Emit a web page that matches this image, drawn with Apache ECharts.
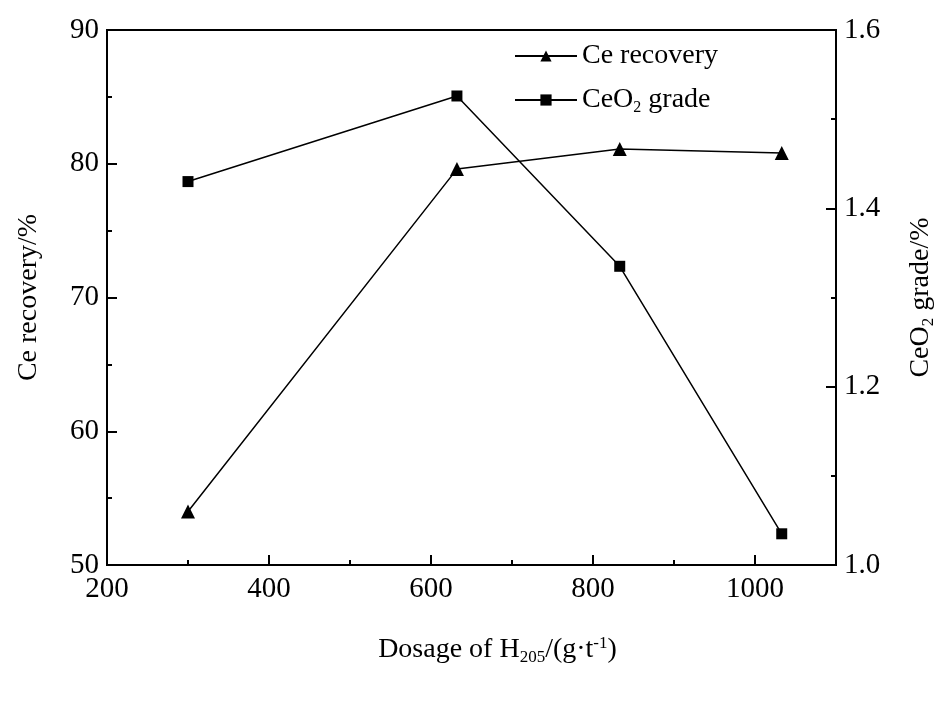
<!DOCTYPE html>
<html>
<head>
<meta charset="utf-8">
<script src="https://cdn.jsdelivr.net/npm/echarts@6/dist/echarts.min.js"></script>
<style>html,body{margin:0;padding:0;background:#fff;}#c{width:942px;height:705px;}</style>
</head>
<body>
<div id="c"></div>
<script>
var dosage = [300, 632, 833, 1033];
var ceRecovery = [54.0, 79.6, 81.1, 80.8];
var ceo2Grade = [1.430, 1.526, 1.335, 1.035];
var xTicks = [200, 400, 600, 800, 1000];
var leftTicks = [50, 60, 70, 80, 90];
var rightTicks = [1.0, 1.2, 1.4, 1.6];

var FONT = 'Liberation Serif';
var chart = echarts.init(document.getElementById('c'));
function pairs(xs, ys){ return xs.map(function(x,i){ return [x, ys[i]]; }); }
var axisLine = {show: true, lineStyle: {color: '#000', width: 2}};
var nameRich = {
  a: {fontFamily: FONT, fontSize: 28, color: '#000'},
  sub: {fontFamily: FONT, fontSize: 17, color: '#000', padding: [16, 0, 0, 0]},
  sup: {fontFamily: FONT, fontSize: 17, color: '#000', padding: [0, 0, 12, 0]}
};
chart.setOption({
  animation: false,
  backgroundColor: '#fff',
  grid: {left: 107, right: 106, top: 30, bottom: 140, containLabel: false, outerBoundsMode: 'none',
    show: true, borderColor: '#000', borderWidth: 2},
  legend: {
    orient: 'vertical', left: 509, top: 37, itemWidth: 62, itemHeight: 14, itemGap: 16,
    data: ['Ce recovery', 'CeO2 grade'],
    formatter: function(n){ return n === 'CeO2 grade' ? '{a|CeO}{sub|2}{a| grade}' : '{a|' + n + '}'; },
    textStyle: {rich: {
      a: {fontFamily: FONT, fontSize: 28, color: '#000'},
      sub: {fontFamily: FONT, fontSize: 16, color: '#000', padding: [15, 0, 0, 0]}
    }}
  },
  xAxis: [{
    type: 'value', min: 200, max: 1100, interval: 200,
    axisLine: axisLine,
    axisTick: {show: true, inside: true, length: 10, lineStyle: {color: '#000', width: 2}},
    axisLabel: {show: true, margin: 10, showMaxLabel: false, fontFamily: FONT, fontSize: 29, color: '#000',
      formatter: function(v){ return xTicks.indexOf(v) >= 0 ? String(v) : ''; }},
    splitLine: {show: false},
    name: '{a|Dosage of H}{sub|205}{a|/(g·t}{sup|-1}{a|)}',
    nameLocation: 'middle', nameGap: 68,
    nameTextStyle: {rich: nameRich, padding: [0, 0, 0, 52]}
  }, {
    type: 'value', min: 200, max: 1100, interval: 100, position: 'bottom',
    axisLine: {show: false},
    axisTick: {show: true, inside: true, length: 5, lineStyle: {color: '#000', width: 2}},
    axisLabel: {show: false}, splitLine: {show: false}
  }],
  yAxis: [{
    type: 'value', min: 50, max: 90, interval: 10, position: 'left',
    axisLine: axisLine,
    axisTick: {show: true, inside: true, length: 10, lineStyle: {color: '#000', width: 2}},
    minorTick: {show: true, splitNumber: 2, length: 5, lineStyle: {color: '#000', width: 2}},
    axisLabel: {margin: 8, fontFamily: FONT, fontSize: 29, color: '#000',
      formatter: function(v){ return leftTicks.indexOf(v) >= 0 ? String(v) : ''; }},
    splitLine: {show: false},
    name: '{a|Ce recovery/%}', nameLocation: 'middle', nameGap: 64, nameRotate: 90,
    nameTextStyle: {rich: nameRich}
  }, {
    type: 'value', min: 1.0, max: 1.6, interval: 0.2, position: 'right',
    axisLine: axisLine,
    axisTick: {show: true, inside: true, length: 10, lineStyle: {color: '#000', width: 2}},
    minorTick: {show: true, splitNumber: 2, length: 5, lineStyle: {color: '#000', width: 2}},
    axisLabel: {margin: 8, fontFamily: FONT, fontSize: 29, color: '#000',
      formatter: function(v){ var t = Math.round(v*10)/10; return rightTicks.indexOf(t) >= 0 ? t.toFixed(1) : ''; }},
    splitLine: {show: false},
    name: '{a|CeO}{sub|2}{a| grade/%}', nameLocation: 'middle', nameGap: 68, nameRotate: 90,
    nameTextStyle: {rich: nameRich}
  }],
  series: [{
    name: 'Ce recovery', type: 'line', xAxisIndex: 0, yAxisIndex: 0,
    data: pairs(dosage, ceRecovery),
    symbol: 'triangle', symbolSize: 14,
    lineStyle: {color: '#000', width: 1.5}, itemStyle: {color: '#000'}
  }, {
    name: 'CeO2 grade', type: 'line', xAxisIndex: 0, yAxisIndex: 1,
    data: pairs(dosage, ceo2Grade),
    symbol: 'rect', symbolSize: 11,
    lineStyle: {color: '#000', width: 1.5}, itemStyle: {color: '#000'}
  }]
});
</script>
</body>
</html>
